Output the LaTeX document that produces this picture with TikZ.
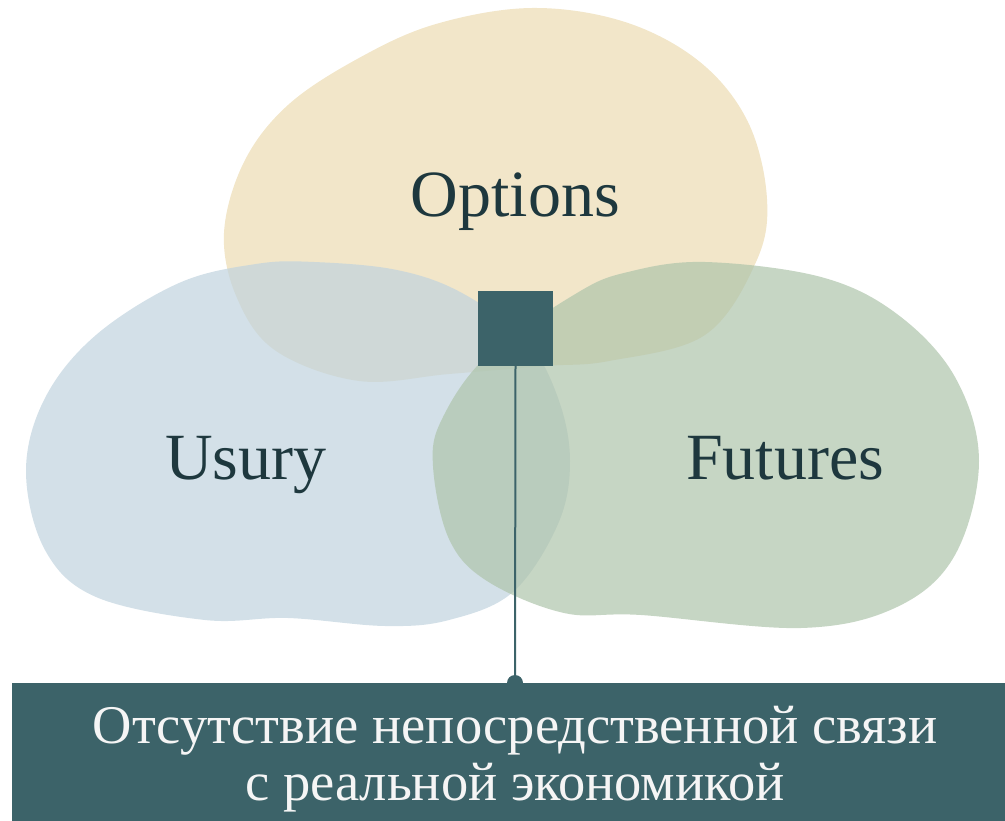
\documentclass[tikz,border=0pt]{standalone}
\usepackage{fontspec}
\setmainfont{Liberation Serif}
\usetikzlibrary{positioning}
\definecolor{optfill}{RGB}{236,219,178}
\definecolor{usufill}{RGB}{192,211,222}
\definecolor{futfill}{RGB}{174,196,171}
\definecolor{tealbox}{RGB}{60,99,105}
\definecolor{labeltext}{RGB}{30,56,62}
\begin{document}
\begin{tikzpicture}[x=1pt,y=-1pt,
    blob/.style={fill opacity=0.7},
    setlabel/.style={text=labeltext, font=\fontsize{66}{70}\selectfont, inner sep=0pt, anchor=base}]
  \useasboundingbox (0,0) rectangle (1005,821);
  % the three sets
  \fill[optfill, blob] plot[smooth cycle, tension=0.6] coordinates {
    (532,8) (625,22) (700,62) (748,122) (767,199) (756,262) (705,335)
    (609,361) (545,366) (449,374) (359,381) (276,351) (237,298) (224,233)
    (244,162) (288,105) (359,58) (436,24)};
  \fill[usufill, blob] plot[smooth cycle, tension=0.6] coordinates {
    (314,262) (397,270) (462,293) (526,340) (558,398) (570,461) (558,524)
    (513,592) (449,620) (385,626) (288,618) (205,620) (96,597) (45,550)
    (26,471) (45,398) (96,335) (179,283) (256,264)};
  \fill[futfill, blob] plot[smooth cycle, tension=0.6] coordinates {
    (705,262) (628,272) (577,293) (487,356) (442,419) (433,466) (449,539)
    (487,581) (564,613) (641,615) (801,628) (897,607) (955,555) (979,461)
    (955,377) (897,314) (821,277)};
  % labels
  \node[setlabel] (options) at (515.5,217) {Options};
  \node[setlabel] (usury) at (246,479) {Usury};
  \node[setlabel] (futures) at (785,479) {Futures};
  % core and note
  \node[fill=tealbox, minimum size=75pt, inner sep=0pt] (core) at (515.5,328.5) {};
  \fill[tealbox] (12,683) rectangle (1005,821);
  \coordinate (pin) at (515,683);
  \draw[tealbox, line width=2pt] (core.south) -- (pin);
  \fill[tealbox] (pin) circle (8pt);
  \node[text=white!96!black, font=\fontsize{54.5}{57}\selectfont, align=center,
    inner sep=0pt, anchor=base] (note) at (515,800)
    {Отсутствие непосредственной связи\\с реальной экономикой};
\end{tikzpicture}
\end{document}
